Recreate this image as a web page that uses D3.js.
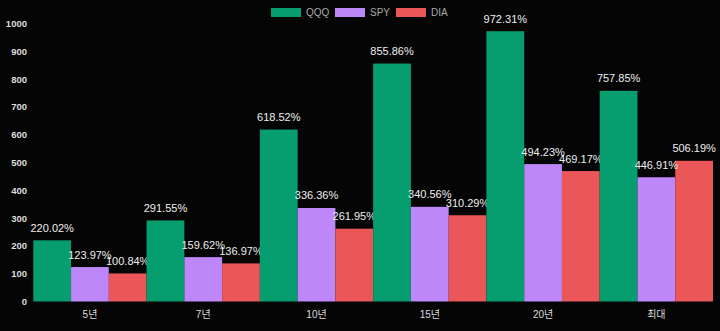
<!DOCTYPE html>
<html><head><meta charset="utf-8">
<script src="https://cdn.jsdelivr.net/npm/d3@7"></script>
<style>html,body{margin:0;padding:0;background:#050505;}svg{display:block;}</style>
</head><body>
<script>
const categories = ["5년","7년","10년","15년","20년","최대"];
const seriesNames = ["QQQ","SPY","DIA"];
const qqq = [220.02, 291.55, 618.52, 855.86, 972.31, 757.85];
const spy = [123.97, 159.62, 336.36, 340.56, 494.23, 446.91];
const dia = [100.84, 136.97, 261.95, 310.29, 469.17, 506.19];
const yTicks = [0,100,200,300,400,500,600,700,800,900,1000];
const colors = ["#069d6f","#bd87f9","#eb5658"];

const W=720,H=331;
const svg=d3.select("body").append("svg").attr("width",W).attr("height",H);
svg.append("rect").attr("width",W).attr("height",H).attr("fill","#050505");
const font="Helvetica, Arial, 'Liberation Sans', 'Noto Sans CJK KR', sans-serif";

const x0=d3.scaleBand().domain(categories).range([33.3,713]).padding(0);
const x1=d3.scaleBand().domain(seriesNames).range([0,x0.bandwidth()]).padding(0);
const y=d3.scaleLinear().domain([0,1000]).range([301.5,23.5]);

const data=[qqq,spy,dia];
const rows=categories.map((c,i)=>({cat:c,vals:seriesNames.map((s,j)=>({s,v:data[j][i],j}))}));

const g=svg.append("g");
const grp=g.selectAll("g.c").data(rows).join("g").attr("transform",d=>`translate(${x0(d.cat)},0)`);
grp.selectAll("rect").data(d=>d.vals).join("rect")
  .attr("x",d=>x1(d.s)).attr("width",x1.bandwidth())
  .attr("y",d=>y(d.v)).attr("height",d=>y(0)-y(d.v)).attr("fill",d=>colors[d.j]);
grp.selectAll("text").data(d=>d.vals).join("text")
  .attr("x",d=>x1(d.s)+x1.bandwidth()/2).attr("y",d=>y(d.v)-8.5)
  .attr("text-anchor","middle").attr("fill","#eeeeee").attr("font-family",font).attr("font-size",11)
  .text(d=>d.v.toFixed(2)+"%");

// y axis
const ya=svg.append("g").attr("transform","translate(27,0)")
  .call(d3.axisLeft(y).tickValues(yTicks).tickFormat(d3.format("d")).tickSize(0).tickPadding(0));
ya.select(".domain").remove();
ya.selectAll("text").attr("fill","#dddddd").attr("font-family",font).attr("font-size",9.5).attr("font-weight","bold");

// x axis
const xa=svg.append("g").attr("transform","translate(0,308)")
  .call(d3.axisBottom(x0).tickSize(0).tickPadding(3));
xa.select(".domain").remove();
xa.selectAll("text").attr("fill","#dddddd").attr("font-family",font).attr("font-size",10);

// legend
const legX=[271,335,396];
const leg=svg.append("g").selectAll("g").data(seriesNames).join("g")
  .attr("transform",(d,i)=>`translate(${legX[i]},8)`);
leg.append("rect").attr("width",30).attr("height",9).attr("fill",(d,i)=>colors[i]);
leg.append("text").attr("x",35).attr("y",8).attr("fill","#aaaaaa").attr("font-family",font).attr("font-size",10).text(d=>d);
</script>
</body></html>
